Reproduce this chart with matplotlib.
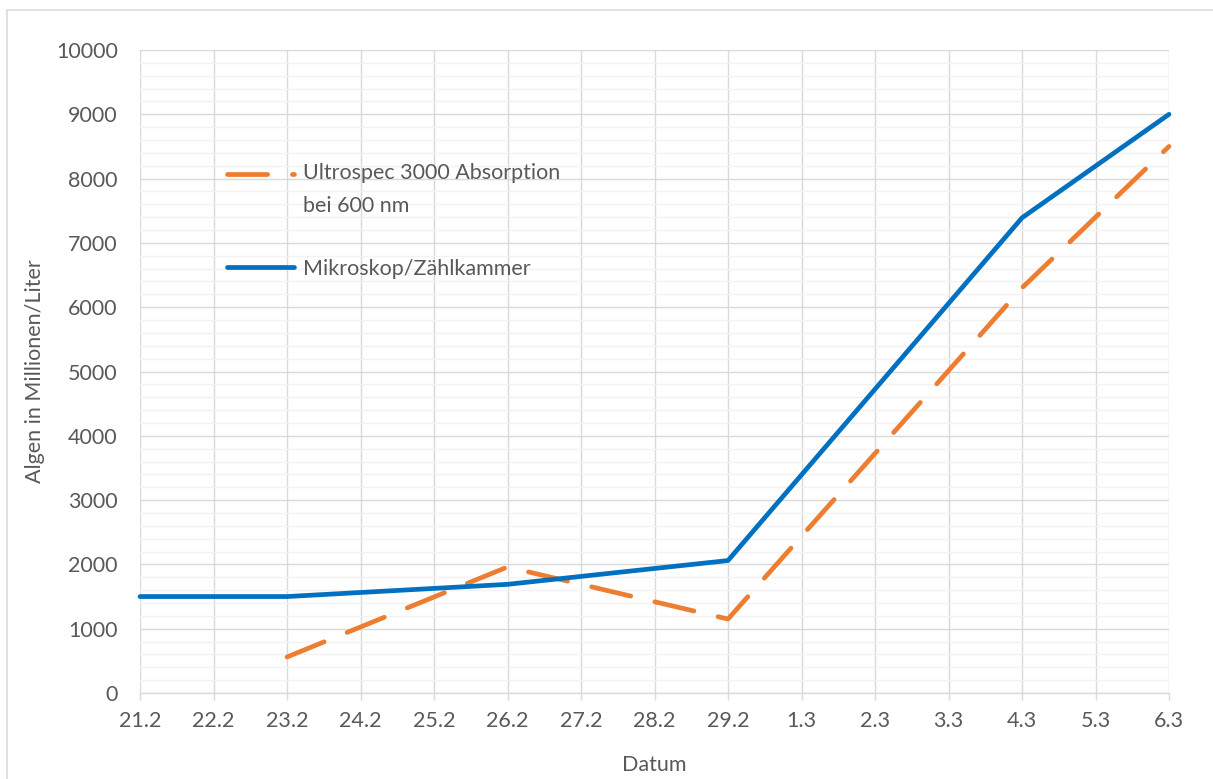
import matplotlib
matplotlib.use("Agg")
import matplotlib.pyplot as plt
from matplotlib.patches import Rectangle
from matplotlib.ticker import MultipleLocator

# Sampling dates (category axis)
categories = ['21.2', '22.2', '23.2', '24.2', '25.2', '26.2', '27.2', '28.2',
              '29.2', '1.3', '2.3', '3.3', '4.3', '5.3', '6.3']

# Photometer series (Ultrospec 3000, absorption at 600 nm)
absorption_dates = ['23.2', '26.2', '29.2', '4.3', '6.3']
absorption_values = [560, 1960, 1150, 6300, 8500]

# Counting chamber series (microscope)
counting_dates = ['21.2', '23.2', '26.2', '29.2', '4.3', '6.3']
counting_values = [1500, 1500, 1690, 2060, 7390, 9000]

label_absorption = 'Ultrospec 3000 Absorption\nbei 600 nm'
label_counting = 'Mikroskop/Zählkammer'

TEXT = '#595959'
GRID = '#d9d9d9'
MINOR = '#f2f2f2'
ORANGE = '#ed7d31'
BLUE = '#0070c0'
FS = 15.5

plt.rcParams['font.family'] = ['Lato', 'DejaVu Sans']

W, H = 1213, 779
fig = plt.figure(figsize=(W / 100, H / 100), dpi=100)
fig.patch.set_facecolor('white')

# outer chart frame
fig.add_artist(Rectangle((7 / W, -0.1), 1.2, 1 - 10 / H + 0.1,
                         transform=fig.transFigure, fill=False,
                         edgecolor=GRID, linewidth=1.1))

ax = fig.add_axes([140 / W, (H - 693) / H, (1169 - 140) / W, (693 - 50) / H])

xpos = {c: i for i, c in enumerate(categories)}

ax.plot([xpos[d] for d in absorption_dates], absorption_values,
        color=ORANGE, linewidth=3.4, dashes=(8.5, 5.25),
        dash_capstyle='round', solid_capstyle='round', dash_joinstyle='round',
        label=label_absorption, clip_on=False, zorder=3)
ax.plot([xpos[d] for d in counting_dates], counting_values,
        color=BLUE, linewidth=3.4, solid_capstyle='round',
        solid_joinstyle='round', label=label_counting, clip_on=False, zorder=4)

ax.set_xlim(0, len(categories) - 1)
ax.set_ylim(0, 10000)
ax.set_xticks(range(len(categories)))
ax.set_xticklabels(categories)
ax.yaxis.set_major_locator(MultipleLocator(1000))
ax.yaxis.set_minor_locator(MultipleLocator(200))

ax.grid(True, which='major', color=GRID, linewidth=1.0, zorder=1)
ax.grid(True, which='minor', axis='y', color=MINOR, linewidth=1.0, zorder=0)
ax.set_axisbelow(True)

for s in ['top', 'right', 'left']:
    ax.spines[s].set_visible(False)
ax.spines['bottom'].set_color(GRID)
ax.spines['bottom'].set_linewidth(1.0)

ax.tick_params(axis='x', which='major', length=5, width=1.0, color=GRID,
               labelsize=FS, labelcolor=TEXT, pad=8)
ax.tick_params(axis='y', which='both', length=0, labelsize=FS,
               labelcolor=TEXT, pad=16)

ax.set_ylabel('Algen in Millionen/Liter', fontsize=FS, color=TEXT, va='center')
ax.yaxis.set_label_coords((35 - 140) / (1169 - 140), 0.5)
ax.set_xlabel('Datum', fontsize=FS, color=TEXT, va='center')
ax.xaxis.set_label_coords(0.5, -(765 - 693) / (693 - 50))

leg = ax.legend(loc='upper left',
                bbox_to_anchor=((227 - 140) / (1169 - 140), (693 - 163) / (693 - 50)),
                frameon=False, fontsize=FS, handlelength=3.1,
                handletextpad=0.42, labelspacing=2.0, borderpad=0,
                borderaxespad=0)
for t in leg.get_texts():
    t.set_color(TEXT)
leg.get_texts()[0].set_linespacing(1.8)

# align the dashed sample with the first line of its two-line label
dash_handle = leg.get_lines()[0]
dash_handle.set_ydata([y + 11.2 for y in dash_handle.get_ydata()])

fig.savefig('out.png', dpi=100)
